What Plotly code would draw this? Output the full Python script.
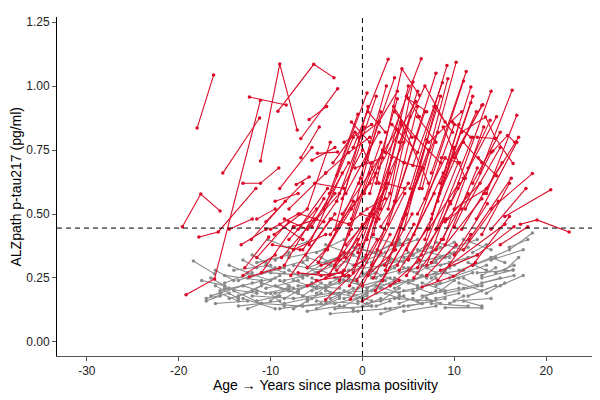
import plotly.graph_objects as go

# ---- data: each entry is one participant's visits (years since positivity, p-tau217) ----
pos_years = [
    [-18.0,-16.2],[-11.1,-9.0,-7.1],[-12.3,-8.3],[-19.2,-16.1,-11.1],[-9.2,-5.3,-3.1],
    [-15.2,-11.2],[-13.0,-11.1,-9.1],[-19.6,-17.6,-15.5],[-17.8,-15.7,-11.6],[-6.7,-2.7],
    [-5.8,-3.9],[-6.7,-4.7],[-7.2,-5.8],[-4.9,-2.7],[-10.5,-6.5],[-12.1,-8.4],[-9.6,-6.0,-3.5],
    [-8.5,-4.2],[-7.8,-3.5],[-11.5,-8.0],[-13.2,-10.5],[-6.5,-2.8,0.2],[-5.5,-1.5],[-4.8,-1.2,1.5],
    [-3.6,-0.5],[-2.8,0.5],[-1.0,2.8],[0.3,3.5],[1.5,4.3,6.2],[2.5,6.4],[3.0,5.5],[4.0,6.8,9.0],
    [5.5,8.7],[6.2,9.3],[6.5,10.2],[7.5,11.3],[8.5,11.8],[12.8,16.3],[10.0,13.0],[13.5,16.8],
    [8.2,11.8],[9.5,13.1],[10.8,13.4,14.5],[11.5,13.9],[14.2,15.8,16.6],[12.5,14.5,16.4],
    [14.0,18.5],[15.5,20.5],[17.2,19.0,22.5],[-2.0,1.0],[-1.5,2.0],[-0.5,3.2],[0.5,4.0],
    [1.0,3.5,6.0],[2.0,5.0],[3.5,7.0],[4.5,8.0],[5.0,7.5,10.5],[6.8,10.0],[7.0,9.5],[8.0,12.0],
    [9.0,12.5],[10.0,14.0],[11.0,14.8],[12.0,16.0],[-3.0,0.0],[-4.0,-0.5],[-2.5,1.2],[-1.0,2.5],
    [0.0,3.0],[1.2,4.8],[2.5,6.5],[3.8,7.8],[4.8,9.0],[6.0,11.0],[7.5,13.0],[9.5,15.5],
    [-6.0,-2.0],[-5.0,-1.5],[-7.0,-4.5,-2.2],[-4.5,-1.8,0.5],[-3.5,0.8],[-2.2,0.8,3.8],
    [-1.8,1.8],[-0.8,2.2],[0.8,4.5],[1.8,5.8],[3.2,6.0],[4.2,7.2],[5.8,8.5],[7.2,10.8],
    [8.8,11.2],[-8.0,-4.0],[-9.0,-5.5],[-5.2,-2.0],[-3.2,-0.8,1.8],[-0.3,1.8],[0.2,2.2,4.5],
    [2.8,5.2],[5.2,8.2],[-11.0,-7.5],[-8.8,-5.2],[-13.0,-9.5],[-9.8,-6.8],[-4.0,0.0],[-1.3,2.0],
    [10.0,13.5],[12.0,15.0],[13.0,16.0],[15.0,18.0],[6.5,9.9,12.3],[8.5,12.5,16.5],[0.0,4.0],
    [-12.3,-9.0],[-7.5,-5.0],[1.5,3.0],[3.5,5.8],[-1.5,0.5,2.5],[9.0,10.8],[4.8,6.2],
    [-8.0,-5.0],[-7.0,-3.8],[-6.2,-3.0],[-5.8,-2.2],[-5.0,-2.5,0.0],[-4.2,-1.0],[-3.8,-0.2],
    [-3.0,0.6],[-2.6,1.0],[-2.2,1.5],[-1.8,1.2],[-1.2,2.0],[-0.8,3.0],[-0.4,2.6],[0.0,2.8],
    [0.4,4.2],[0.8,3.8],[1.2,5.0],[1.6,4.6],[2.0,6.0],[2.4,5.4],[2.8,6.8],[3.2,7.2],[3.6,8.0],
    [4.0,7.0],[4.4,8.5],[4.8,8.8],[5.2,9.2],[5.6,10.0],[6.0,9.0],[6.4,10.4],[6.8,11.0],[7.2,10.5],
    [7.6,12.0],[8.0,11.5],[8.4,12.4],[8.8,13.2],[9.2,12.8],[9.6,14.0],[10.0,13.6],[10.4,14.6],
    [10.8,15.2],[11.2,15.0],[11.6,16.2],[12.4,16.8],[13.2,17.0],[14.0,17.8],[-10.0,-7.0],
    [-9.0,-6.5],[-8.5,-6.0,-3.0],[-7.5,-4.0],[-6.0,-4.0,-1.0],[-4.8,-2.0],[-3.6,-1.2],[-2.8,-0.4],
    [-2.0,0.4],[-1.4,1.6],[-0.6,2.4],[0.6,3.6],[1.4,4.4],[2.2,5.6],[3.0,6.2],[5.6,8.6],[7.0,10.2],
    [8.2,11.8],[-5.5,-3.0],[-4.0,-1.5,0.8],[-1.2,0.8],[0.6,2.5],[1.8,3.8],[3.4,5.4],[5.0,7.0],
    [6.0,8.0],[7.8,9.8],[9.8,11.8],[11.0,13.0],[12.6,14.6],[-6.8,-4.2],[-3.4,-1.4],[-0.2,1.8],
    [2.6,4.6],[4.6,6.6],[8.6,10.6],[-9.5,-7.0],[-11.5,-9.5],[-14.5,-12.0],[-12.8,-10.2],
]
pos_ptau = [
    [0.836,1.043],[0.707,1.086,0.828],[0.957,0.926],[0.184,0.246,0.945],[0.902,1.085,1.033],
    [0.66,0.875],[0.62,0.62,0.68],[0.45,0.578,0.512],[0.41,0.43,0.60],[0.795,0.99],
    [0.869,0.92],[0.72,0.84],[0.615,0.645],[0.737,0.742],[0.47,0.62],[0.40,0.55],[0.42,0.52,0.78],
    [0.30,0.56],[0.26,0.48],[0.33,0.47],[0.38,0.44],[0.36,0.55,0.84],[0.45,0.70],[0.31,0.52,0.66],
    [0.58,0.89],[0.65,0.973],[0.76,1.105],[0.70,1.033],[0.62,1.068,0.964],[0.74,1.107],[0.58,1.016],[0.78,1.0,0.86],
    [0.69,1.013],[0.60,1.029],[0.60,1.093],[0.66,1.057],[0.62,0.996],[0.66,0.984],[0.72,0.925],[0.58,0.886],
    [0.55,0.935],[0.70,0.927],[0.82,0.879,0.795],[0.68,0.866],[0.746,0.807,0.78],[0.80,0.795,0.697],
    [0.52,0.658],[0.49,0.595],[0.46,0.477,0.43],[0.78,0.85],[0.42,0.78],[0.35,0.72],[0.40,0.88],
    [0.30,0.55,0.92],[0.45,0.62],[0.36,0.79],[0.44,0.92],[0.32,0.48,0.85],[0.40,0.76],[0.30,0.55],[0.44,0.80],
    [0.38,0.68],[0.45,0.74],[0.36,0.55],[0.30,0.49],[0.30,0.46],[0.25,0.40],[0.24,0.52],[0.27,0.60],
    [0.22,0.42],[0.25,0.50],[0.28,0.68],[0.30,0.58],[0.26,0.48],[0.29,0.64],[0.31,0.56],[0.30,0.46],
    [0.22,0.28],[0.24,0.26],[0.27,0.26,0.27],[0.30,0.33,0.48],[0.42,0.62],[0.50,0.66,0.83],
    [0.58,0.82],[0.68,0.72],[0.50,0.78],[0.68,0.94],[0.85,0.74],[0.86,0.62],[0.80,0.70],[0.78,0.90],
    [0.84,0.64],[0.52,0.66],[0.60,0.76],[0.62,0.60],[0.70,0.82,0.62],[0.80,0.86],[0.58,0.75,0.70],
    [0.52,0.88],[0.56,0.82],[0.27,0.45],[0.33,0.48],[0.26,0.34],[0.38,0.36],[0.165,0.30],[0.167,0.35],
    [0.52,0.60],[0.62,0.82],[0.42,0.62],[0.38,0.45],[0.215,0.257,0.31],[0.28,0.34,0.45],[0.16,0.24],
    [0.255,0.29],[0.45,0.48],[0.47,0.58],[0.90,0.80],[0.46,0.52,0.56],[0.47,0.52],[0.96,0.88],
    [0.40,0.52],[0.44,0.60],[0.34,0.50],[0.38,0.66],[0.48,0.58,0.75],[0.52,0.80],[0.36,0.64],
    [0.44,0.92],[0.32,0.70],[0.56,0.96],[0.38,0.50],[0.48,0.90],[0.30,0.66],[0.62,1.00],[0.45,0.62],
    [0.34,0.85],[0.58,0.95],[0.42,1.00],[0.36,0.58],[0.52,0.98],[0.30,0.50],[0.46,0.90],[0.38,0.75],[0.55,1.05],
    [0.28,0.44],[0.48,0.96],[0.36,0.66],[0.60,1.08],[0.42,0.85],[0.50,0.72],[0.34,0.70],[0.56,1.02],[0.44,0.62],
    [0.50,0.96],[0.36,0.58],[0.58,0.90],[0.40,0.84],[0.48,0.62],[0.54,0.98],[0.34,0.54],[0.60,0.88],
    [0.44,0.70],[0.52,0.76],[0.40,0.64],[0.48,0.78],[0.58,0.80],[0.44,0.60],[0.44,0.50],
    [0.46,0.40],[0.48,0.44,0.58],[0.36,0.42],[0.29,0.36,0.55],[0.27,0.35],[0.26,0.44],[0.28,0.38],
    [0.26,0.33],[0.22,0.40],[0.24,0.44],[0.26,0.36],[0.20,0.38],[0.24,0.46],[0.22,0.32],[0.25,0.40],[0.26,0.38],
    [0.24,0.42],[0.71,0.76],[0.66,0.74,0.80],[0.86,0.78],[0.90,0.82],[0.86,0.98],[0.92,0.80],[0.95,0.90],
    [0.88,0.78],[0.92,0.82],[0.86,0.80],[0.78,0.70],[0.72,0.65],[0.50,0.47],[0.48,0.46],[0.50,0.48],
    [0.62,0.60],[0.70,0.68],[0.72,0.70],[0.55,0.58],[0.48,0.52],[0.44,0.48],[0.29,0.41],
]
neg_years = [
    [-18.4,-16.1],[-16.5,-13.0],[-16.0,-12.5],[-15.5,-12.0,-9.5],[-15.0,-11.0],[-14.5,-11.5],[-14.0,-10.0],
    [-13.5,-9.0],[-13.0,-10.5,-8.0],[-12.5,-8.5],[-12.0,-7.5],[-11.5,-8.0],[-11.0,-6.5],[-10.5,-7.0],
    [-10.0,-6.0,-3.0],[-9.5,-5.5],[-9.0,-4.5],[-8.5,-5.0],[-8.0,-4.0],[-7.5,-3.5],[-7.0,-2.5],
    [-6.5,-3.0,0.5],[-6.0,-2.0],[-5.5,-1.5],[-5.0,-0.5],[-4.5,-1.0],[-4.0,0.0],[-3.5,0.5],[-3.0,1.0],
    [-2.5,1.5],[-2.0,2.0],[-1.5,2.5,5.0],[-1.0,3.0],[-0.5,3.5],[0.0,4.0],[0.5,4.5],[1.0,5.0],[1.5,5.5],
    [2.0,6.0,8.5],[2.5,6.5],[3.0,7.0],[3.5,7.5],[4.0,8.0],[4.5,8.5],[5.0,9.0],[5.5,9.5],[6.0,10.0],
    [6.5,10.5],[7.0,11.0],[7.5,11.5],[8.0,12.0],[8.5,12.5],[9.0,13.0],[9.5,13.5],[10.0,14.0],
    [10.5,14.5],[11.0,15.0],[12.0,16.0,18.5],[12.5,16.4],[9.0,13.0],[13.0,16.5],[14.0,17.5],
    [-12.0,-9.0],[-10.0,-8.0],[-8.0,-5.5,-2.5],[-6.5,-4.0],[-5.5,-2.5],[-4.0,-1.5],[-3.0,0.0,3.0],
    [-2.0,0.5],[-1.0,1.8],[0.0,2.5],[0.8,3.5],[1.5,4.0],[2.5,5.0],[3.5,6.0],[4.5,7.5],[5.5,8.0],
    [6.5,9.0],[7.5,10.0],[-15.0,-12.0],[-14.0,-11.0],[-3.5,-0.5],[-9.0,-6.0],[-7.5,-4.5],[-11.0,-8.0],
    [-1.0,1.5,4.0],[10.0,12.5],[11.5,14.5],[-16.5,-14.5],[-13.0,-11.5],[2.0,4.5],[6.0,8.5],[-5.0,-2.0],
    [-10.3,-7.5],[-8.0,-6.0],[-17.0,-14.5],[-16.0,-13.5],[-13.5,-11.0],[-12.5,-10.0],[-11.5,-9.0],
    [-10.5,-8.5],[-9.5,-7.0],[-8.5,-6.0],[-7.5,-5.0],[-6.5,-4.5],[-6.0,-3.5],[-5.0,-2.5],[-4.5,-2.0],
    [-3.5,-1.0],[-2.5,0.0],[-2.0,1.0],[-1.0,1.0],[0.0,2.0],[0.5,3.0],[1.0,3.5],[2.0,4.0],[3.0,5.5],
    [4.0,6.5],[5.0,7.0],[6.0,8.0],[7.0,9.5],[8.0,10.5],[9.0,11.5],[10.5,13.0],[11.5,13.5],[13.5,15.5],
    [14.5,16.5],[15.0,17.5],[-4.0,-1.0],[3.5,6.0],[1.0,4.0],[13.0,16.4],[11.0,13.0],
    [-17.5,-15.0],[-17.0,-15.5],[-16.0,-14.0],[-15.5,-13.5],[-14.5,-12.5],[-13.5,-12.0],[-12.5,-11.0],
    [-12.0,-10.5],[-11.0,-9.5],[-10.0,-8.5],[-9.5,-8.0],[-9.0,-7.5],[-8.5,-7.0],[-8.0,-6.5],[-7.5,-6.0],
    [-7.0,-5.5],[-6.5,-5.0],[-6.0,-4.5],[-5.5,-4.0],[-5.0,-3.5],[-4.5,-3.0],[-4.0,-2.5],[-3.5,-2.0],
    [-3.0,-1.5],[-2.5,-1.0],[-2.0,-0.5],[-1.5,0.0],[-1.0,0.5],[-0.5,1.0],[0.0,1.5],[0.5,2.0],[1.0,2.5],
    [1.5,3.0],[2.0,3.5],[2.5,4.0],[3.0,4.5],[3.5,5.0],[4.0,5.5],[4.5,6.0],[5.0,6.5],[5.5,7.0],[6.0,7.5],
    [6.5,8.0],[7.0,8.5],[7.5,9.0],[8.0,9.5],[8.5,10.0],[9.0,10.5],[9.5,11.0],[10.0,11.5],[11.0,12.5],
    [12.0,13.5],[13.0,14.5],[14.0,15.5],[15.5,17.0],[16.0,18.0],[11.0,14.0],[8.0,11.0],[-15.0,-11.5],
    [-13.0,-9.5],[-6.0,-2.5],[-4.0,0.0],[0.0,3.5],[4.5,8.0],[6.0,9.5],
]
neg_ptau = [
    [0.316,0.266],[0.18,0.22],[0.15,0.16],[0.20,0.23,0.25],[0.26,0.24],[0.17,0.20],[0.28,0.30],
    [0.14,0.16],[0.22,0.19,0.21],[0.25,0.29],[0.18,0.17],[0.31,0.34],[0.15,0.14],[0.21,0.24],
    [0.27,0.26,0.30],[0.19,0.22],[0.13,0.15],[0.24,0.27],[0.33,0.36],[0.17,0.19],[0.22,0.21],
    [0.14,0.15,0.18],[0.29,0.34],[0.20,0.24],[0.16,0.15],[0.26,0.28],[0.31,0.37],[0.19,0.20],[0.13,0.14],
    [0.23,0.27],[0.17,0.21],[0.28,0.30,0.35],[0.12,0.13],[0.21,0.23],[0.33,0.39],[0.15,0.18],[0.25,0.29],[0.19,0.20],
    [0.30,0.33,0.37],[0.13,0.15],[0.22,0.26],[0.17,0.16],[0.27,0.31],[0.20,0.23],[0.14,0.17],[0.24,0.29],[0.31,0.35],
    [0.18,0.21],[0.26,0.28],[0.15,0.14],[0.22,0.27],[0.30,0.34],[0.19,0.22],[0.25,0.30],[0.16,0.17],
    [0.28,0.33],[0.21,0.25],[0.30,0.36,0.426],[0.27,0.281],[0.134,0.133],[0.23,0.26],[0.32,0.36],
    [0.20,0.26],[0.16,0.22],[0.20,0.17,0.19],[0.26,0.31],[0.23,0.18],[0.21,0.26],[0.25,0.22,0.25],
    [0.14,0.19],[0.30,0.34],[0.18,0.24],[0.28,0.24],[0.22,0.19],[0.35,0.40],[0.25,0.22],[0.33,0.37],[0.19,0.25],
    [0.23,0.20],[0.35,0.39],[0.23,0.27],[0.20,0.15],[0.11,0.12],[0.29,0.32],[0.30,0.28],[0.23,0.20],
    [0.37,0.35,0.40],[0.37,0.40],[0.18,0.22],[0.25,0.21],[0.32,0.29],[0.11,0.14],[0.27,0.33],[0.35,0.40],
    [0.40,0.36],[0.37,0.39],[0.17,0.19],[0.22,0.17],[0.18,0.22],[0.27,0.24],[0.16,0.18],
    [0.30,0.27],[0.22,0.19],[0.15,0.17],[0.24,0.21],[0.18,0.23],[0.33,0.30],[0.13,0.17],[0.28,0.24],
    [0.17,0.21],[0.32,0.29],[0.20,0.16],[0.24,0.28],[0.14,0.17],[0.27,0.32],[0.20,0.24],[0.16,0.21],[0.29,0.34],
    [0.18,0.15],[0.28,0.25],[0.16,0.20],[0.29,0.31],[0.17,0.19],[0.33,0.37],[0.23,0.20],[0.31,0.28],[0.19,0.23],
    [0.27,0.30],[0.22,0.26],[0.38,0.34],[0.37,0.40],[0.41,0.38],[0.25,0.281],[0.16,0.14],
    [0.24,0.22],[0.16,0.18],[0.28,0.24],[0.19,0.16],[0.30,0.27],[0.24,0.26],[0.13,0.15],
    [0.34,0.31],[0.27,0.29],[0.19,0.14],[0.32,0.35],[0.24,0.21],[0.17,0.20],[0.28,0.25],[0.13,0.16],
    [0.20,0.23],[0.31,0.27],[0.16,0.19],[0.25,0.22],[0.19,0.23],[0.33,0.30],[0.15,0.18],[0.23,0.26],
    [0.29,0.32],[0.14,0.13],[0.26,0.23],[0.19,0.22],[0.34,0.31],[0.16,0.14],[0.27,0.25],[0.21,0.24],[0.31,0.35],
    [0.14,0.16],[0.26,0.29],[0.19,0.17],[0.33,0.31],[0.21,0.24],[0.15,0.17],[0.29,0.27],[0.23,0.26],[0.34,0.38],[0.21,0.19],
    [0.30,0.27],[0.17,0.15],[0.25,0.28],[0.32,0.35],[0.20,0.24],[0.27,0.25],[0.15,0.18],[0.30,0.33],[0.25,0.22],
    [0.35,0.38],[0.26,0.29],[0.33,0.31],[0.28,0.33],[0.37,0.40],[0.40,0.36],[0.39,0.36],[0.21,0.19],
    [0.17,0.13],[0.12,0.14],[0.20,0.17],[0.36,0.32],[0.12,0.14],[0.36,0.33],
]

x_ticks = [-30, -20, -10, 0, 10, 20]
y_ticks = [0.00, 0.25, 0.50, 0.75, 1.00, 1.25]
threshold = 0.445
x_title = "Age \u2192 Years since plasma positivity"
y_title = "ALZpath p-tau217 (pg/ml)"

RED = "#DC0A28"
GREY = "#8A8A8A"


def flatten(xs, ys):
    fx, fy = [], []
    for a, b in zip(xs, ys):
        fx.extend(a + [None])
        fy.extend(b + [None])
    return fx, fy


fig = go.Figure()
gx, gy = flatten(neg_years, neg_ptau)
rx, ry = flatten(pos_years, pos_ptau)
fig.add_trace(go.Scatter(x=gx, y=gy, mode="lines+markers", connectgaps=False,
                         line=dict(color=GREY, width=1.1), marker=dict(color=GREY, size=3.5),
                         showlegend=False, hoverinfo="skip"))
fig.add_trace(go.Scatter(x=rx, y=ry, mode="lines+markers", connectgaps=False,
                         line=dict(color=RED, width=1.1), marker=dict(color=RED, size=3.5),
                         showlegend=False, hoverinfo="skip"))

fig.add_hline(y=threshold, line=dict(color="black", width=1, dash="5px,4px"))
fig.add_vline(x=0, line=dict(color="black", width=1, dash="5px,4px"))

fig.add_annotation(text=x_title, xref="paper", yref="paper", x=0.5, y=0,
                   yshift=-29, xanchor="center", yanchor="middle", showarrow=False,
                   font=dict(size=14, color="black"))
fig.add_annotation(text=y_title, xref="paper", yref="paper", x=0, y=0.5,
                   xshift=-42, xanchor="center", yanchor="middle", textangle=-90,
                   showarrow=False, font=dict(size=14, color="black"))

fig.update_layout(
    width=600, height=400,
    margin=dict(l=49, r=15, t=9, b=52),
    paper_bgcolor="white", plot_bgcolor="white",
    font=dict(family="Liberation Sans, Arial, sans-serif", color="black"),
    xaxis=dict(range=[-33.25, 25.1], tickvals=x_ticks, ticktext=[str(v) for v in x_ticks],
               showgrid=False, zeroline=False, showline=True, linecolor="#555", linewidth=1,
               ticks="outside", ticklen=4, tickcolor="#555", automargin=False,
               tickfont=dict(size=12, color="#222")),
    yaxis=dict(range=[-0.055, 1.27], tickvals=y_ticks, tickformat=".2f",
               showgrid=False, zeroline=False, showline=True, linecolor="black", linewidth=1,
               ticks="outside", ticklen=4, tickcolor="#555", automargin=False,
               tickfont=dict(size=12, color="#222")),
)

fig.write_html("out.html")
